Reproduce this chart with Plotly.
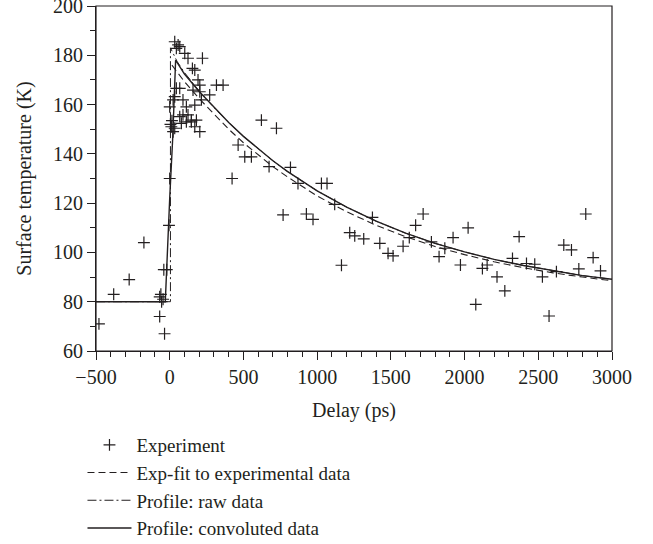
import plotly.graph_objects as go

# Experimental points (delay ps, temperature K)
exp_x = [-480, -380, -275, -175, -68, -55, -60, -45, -68, -35, -40, -20, -5, 0,
         34, 57, 45, 68, 102, 124, 222, 154, 170, 192, 204, 317, 362, 45, 68, 158,
         204, 271, 34, 0, 23, 90, 113, 170, 215, 11, 34, 23, 68, 90, 124, 147, 79,
         113, 147, 181, 170, 204, 5, 15,
         423, 464, 509, 554, 622, 674, 724, 769, 819, 870, 927, 972, 1029, 1067,
         1119, 1165, 1221, 1255, 1316, 1375, 1425, 1481, 1515, 1583, 1625, 1668,
         1719, 1775, 1827, 1866, 1922, 1972, 2024, 2076, 2121, 2153, 2220, 2273,
         2325, 2370, 2420, 2476, 2528, 2573, 2623, 2673, 2725, 2775, 2822, 2872, 2922]
exp_y = [71, 83, 89, 104, 82, 80, 83, 81, 74, 67, 93, 93, 111, 130,
         185.5, 184.2, 182.8, 183.5, 180.8, 178.8, 178.8, 174.7, 174, 170, 167.9, 167.9,
         167.9, 166.6, 166.6, 165.9, 165.2, 163.9, 163.2, 159.1, 161.9, 161.9, 159.1,
         159.8, 161.9, 151, 150.4, 149, 155.1, 155.8, 155.8, 153.7, 152.4, 153, 153,
         153.7, 151, 149, 152, 153.5,
         130, 143.6, 138.8, 138.8, 153.7, 134.8, 150.4, 115.2, 134.5, 128, 115.6, 113.4,
         128, 128, 119.5, 94.8, 108, 106.7, 105.5, 114.2, 103.7, 99.6, 98.6, 102.5, 106,
         111, 115.6, 104.3, 98.3, 101.7, 106, 94.9, 110, 78.9, 93.5, 94.9, 90.1, 84.4,
         97.6, 106.4, 95.5, 95.2, 90.1, 74.2, 92.2, 103, 101, 93.3, 115.6, 97.9, 92.5]

# Exponential fit curve
fit_x = [15, 100, 200, 300, 400, 500, 600, 700, 800, 1000, 1200, 1400, 1600, 1800,
         2000, 2200, 2400, 2600, 2800, 3000]
fit_y = [176, 169.3, 162.4, 156, 150, 144.5, 139.5, 134.8, 130.6, 122.9, 116.5, 111,
         106.4, 102.4, 99.1, 96.2, 93.8, 91.7, 90, 88.5]

# Profile: raw data
raw_x = [-500, 5, 5, 50, 100, 200, 300, 400, 500, 600, 700, 800, 1000, 1200, 1400,
         1600, 1800, 2000, 2200, 2400, 2600, 2800, 3000]
raw_y = [80, 80, 183, 177.5, 173, 165.5, 158.8, 152.7, 147.1, 142, 137.2, 132.8, 125,
         118.4, 112.7, 107.8, 103.7, 100.2, 97.2, 94.7, 92.5, 90.6, 89.1]

# Profile: convoluted data
conv_x = [-500, -30, 0, 20, 40, 100, 200, 300, 400, 500, 600, 700, 800, 1000, 1200,
          1400, 1600, 1800, 2000, 2200, 2400, 2600, 2800, 3000]
conv_y = [80, 80, 122, 146, 178, 172.4, 165.3, 158.8, 152.7, 147.1, 142, 137.2, 132.8,
          125, 118.4, 112.7, 107.8, 103.7, 100.2, 97.2, 94.7, 92.5, 90.6, 89.1]

ink = "#231f20"
font_family = "Liberation Serif, Tinos, Times New Roman, serif"
fs = 20
legend_fs = 19

W, H = 653, 544
legend_top = 426           # px from top of figure

fig = go.Figure()
fig.add_trace(go.Scatter(x=exp_x, y=exp_y, mode="markers", name="Experiment",
                         marker=dict(symbol="cross-thin-open", size=8.5,
                                     line=dict(width=1.2, color=ink), color=ink)))
fig.add_trace(go.Scatter(x=fit_x, y=fit_y, mode="lines", name="Exp-fit to experimental data",
                         line=dict(color=ink, width=1.1, dash="7px,4px")))
fig.add_trace(go.Scatter(x=raw_x, y=raw_y, mode="lines", name="Profile: raw data",
                         line=dict(color=ink, width=1.0, dash="9px,3px,2px,3px")))
fig.add_trace(go.Scatter(x=conv_x, y=conv_y, mode="lines", name="Profile: convoluted data",
                         line=dict(color=ink, width=1.4)))

axis_common = dict(showline=True, linecolor=ink, linewidth=1.2, mirror=False,
                   ticks="outside", ticklen=8, tickwidth=1.2, tickcolor=ink,
                   showgrid=False, zeroline=False, automargin=False,
                   ticklabeloverflow="allow",
                   tickfont=dict(family=font_family, size=fs, color=ink))

fig.update_xaxes(range=[-500, 3000], dtick=500, tick0=0,
                 minor=dict(dtick=100, ticks="outside", ticklen=5, tickcolor=ink, tickwidth=1),
                 title=dict(text="Delay (ps)", font=dict(family=font_family, size=fs, color=ink)),
                 **axis_common)
fig.update_yaxes(range=[60, 200], dtick=20, tick0=0,
                 minor=dict(dtick=10, ticks="outside", ticklen=5, tickcolor=ink, tickwidth=1),
                 title=dict(text="Surface temperature (K)",
                            font=dict(family=font_family, size=fs, color=ink)),
                 **axis_common)

fig.add_shape(type="rect", xref="paper", yref="paper", x0=0, x1=1, y0=0, y1=1,
              line=dict(color=ink, width=1.2), fillcolor="rgba(0,0,0,0)", layer="above")

fig.update_layout(
    width=W, height=H,
    margin=dict(l=96, r=41, t=6, b=193),
    plot_bgcolor="white", paper_bgcolor="white",
    font=dict(family=font_family, size=fs, color=ink),
    showlegend=True,
    legend=dict(xref="paper", yref="container",
                x=-0.0262, y=1 - legend_top / H, xanchor="left", yanchor="top",
                bgcolor="rgba(0,0,0,0)", font=dict(family=font_family, size=legend_fs, color=ink),
                tracegroupgap=0, itemwidth=44),
)

fig.write_html("out.html", config={"displayModeBar": False},
               post_script="document.body.style.margin='0px';")
